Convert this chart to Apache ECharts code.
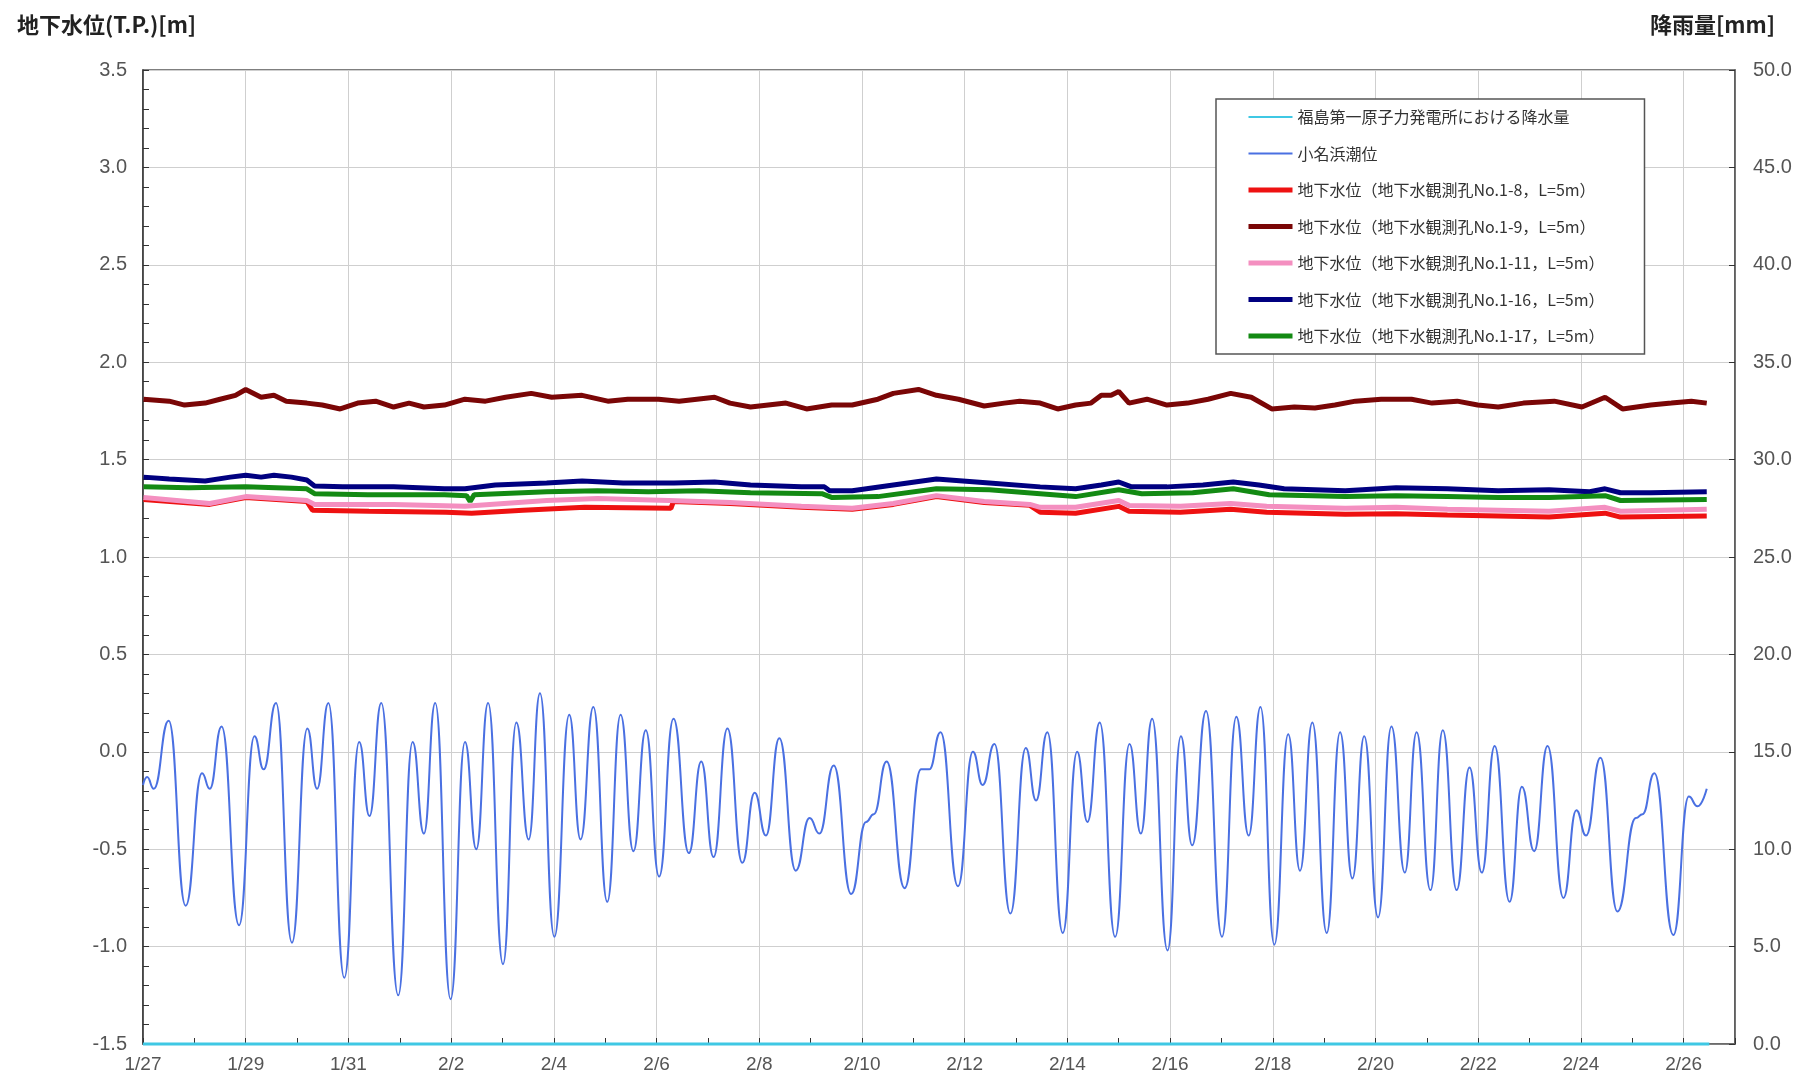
<!DOCTYPE html>
<html><head><meta charset="utf-8">
<script src="https://cdn.jsdelivr.net/npm/echarts@6/dist/echarts.min.js"></script>
<style>html,body{margin:0;padding:0;background:#fff}#c{width:1796px;height:1078px}</style>
</head><body><div id="c"></div>
<script>
// x values are days elapsed since 1/27 00:00
const xTickLabels = ['1/27','1/29','1/31','2/2','2/4','2/6','2/8','2/10','2/12','2/14','2/16','2/18','2/20','2/22','2/24','2/26'];
const legendNames = [
  '福島第一原子力発電所における降水量',
  '小名浜潮位',
  '地下水位（地下水観測孔No.1-8，L=5m）',
  '地下水位（地下水観測孔No.1-9，L=5m）',
  '地下水位（地下水観測孔No.1-11，L=5m）',
  '地下水位（地下水観測孔No.1-16，L=5m）',
  '地下水位（地下水観測孔No.1-17，L=5m）'
];
// rainfall [mm] (right axis)
const rainfall = [[0,0],[1,0],[2,0],[3,0],[4,0],[5,0],[6,0],[7,0],[8,0],[9,0],[10,0],[11,0],[12,0],[13,0],[14,0],[15,0],[16,0],[17,0],[18,0],[19,0],[20,0],[21,0],[22,0],[23,0],[24,0],[25,0],[26,0],[27,0],[28,0],[29,0],[30,0],[30.5,0]];
// Onahama tide level [m]
const tide = [[0.0,-0.17],[0.08,-0.13],[0.21,-0.19],[0.5,0.16],[0.83,-0.79],[1.15,-0.11],[1.3,-0.19],[1.53,0.13],[1.87,-0.89],[2.17,0.08],[2.35,-0.09],[2.59,0.25],[2.9,-0.98],[3.2,0.12],[3.39,-0.19],[3.61,0.25],[3.92,-1.16],[4.21,0.05],[4.41,-0.33],[4.64,0.25],[4.97,-1.25],[5.25,0.05],[5.47,-0.42],[5.69,0.25],[5.99,-1.27],[6.27,0.05],[6.49,-0.50],[6.72,0.25],[7.01,-1.09],[7.27,0.15],[7.51,-0.45],[7.73,0.30],[8.01,-0.95],[8.3,0.19],[8.52,-0.45],[8.77,0.23],[9.04,-0.77],[9.3,0.19],[9.55,-0.51],[9.79,0.11],[10.05,-0.64],[10.33,0.17],
[10.63,-0.52],[10.87,-0.05],[11.11,-0.54],[11.38,0.12],[11.67,-0.57],[11.91,-0.21],[12.13,-0.43],[12.39,0.07],[12.71,-0.61],[12.98,-0.34],[13.17,-0.42],[13.45,-0.07],[13.79,-0.73],[14.08,-0.36],[14.23,-0.32],[14.48,-0.05],[14.83,-0.70],[15.15,-0.09],[15.31,-0.09],[15.53,0.10],[15.87,-0.69],[16.16,0.0],[16.35,-0.17],[16.58,0.04],[16.89,-0.83],[17.19,0.02],[17.39,-0.25],[17.61,0.10],[17.91,-0.93],[18.19,0.0],[18.39,-0.36],[18.63,0.15],[18.93,-0.95],[19.21,0.04],[19.43,-0.42],[19.65,0.17],[19.95,-1.02],[20.21,0.08],[20.43,-0.48],[20.7,0.21],
[21.01,-0.95],[21.29,0.18],[21.53,-0.43],[21.76,0.23],[22.03,-0.99],[22.3,0.09],[22.53,-0.61],[22.77,0.15],[23.05,-0.93],[23.31,0.10],[23.55,-0.65],[23.78,0.08],[24.05,-0.85],[24.31,0.13],[24.57,-0.62],[24.8,0.10],[25.07,-0.71],[25.31,0.11],[25.58,-0.71],[25.83,-0.08],[26.07,-0.62],[26.32,0.03],[26.61,-0.77],[26.85,-0.18],[27.09,-0.51],[27.35,0.03],[27.66,-0.75],[27.91,-0.30],[28.1,-0.43],[28.38,-0.03],[28.71,-0.82],[29.07,-0.34],[29.2,-0.32],[29.43,-0.11],[29.8,-0.94],[30.1,-0.23],[30.27,-0.28],[30.45,-0.19]];
// groundwater level No.1-8 [m]
const well1_8 = [[0.01,1.295],[1.3,1.27],[2.0,1.305],[3.19,1.285],[3.3,1.24],[4.4,1.235],[5.9,1.23],[6.4,1.225],[7.4,1.24],[8.6,1.255],[10.28,1.25],[10.33,1.285],[11.43,1.275],[12.82,1.255],[13.81,1.245],[14.61,1.27],[15.45,1.31],[16.38,1.28],[17.27,1.265],[17.47,1.23],[18.16,1.225],[19.0,1.26],[19.2,1.235],[20.2,1.23],[21.18,1.245],[21.88,1.23],[23.41,1.22],[24.4,1.222],[25.4,1.215],[26.4,1.21],[27.38,1.205],[28.47,1.225],[28.77,1.205],[30.45,1.21]];
// No.1-9
const well1_9 = [[0.01,1.81],[0.51,1.80],[0.81,1.78],[1.21,1.79],[1.5,1.81],[1.8,1.83],[2.0,1.86],[2.3,1.82],[2.55,1.83],[2.79,1.80],[3.19,1.79],[3.49,1.78],[3.84,1.76],[4.18,1.79],[4.53,1.80],[4.88,1.77],[5.18,1.79],[5.47,1.77],[5.87,1.78],[6.27,1.81],[6.67,1.80],[7.06,1.82],[7.56,1.84],[7.96,1.82],[8.55,1.83],[9.05,1.80],[9.44,1.81],[10.04,1.81],[10.44,1.80],[11.13,1.82],[11.43,1.79],[11.83,1.77],[12.52,1.79],[12.92,1.76],[13.41,1.78],[13.81,1.78],[14.31,1.81],[14.61,1.84],[15.1,1.86],[15.45,1.83],[15.88,1.81],[16.38,1.775],[16.77,1.79],[17.07,1.80],[17.47,1.79],[17.81,1.76],[18.16,1.78],[18.46,1.79],[18.66,1.83],[18.85,1.83],[19.0,1.85],[19.2,1.79],[19.55,1.81],[19.94,1.78],[20.34,1.79],[20.74,1.81],[21.18,1.84],[21.58,1.82],[21.98,1.76],[22.42,1.77],[22.82,1.765],[23.21,1.78],[23.61,1.80],[24.11,1.81],[24.7,1.81],[25.1,1.79],[25.59,1.80],[25.99,1.78],[26.39,1.77],[26.88,1.79],[27.48,1.80],[28.02,1.77],[28.47,1.82],[28.81,1.76],[29.36,1.78],[29.76,1.79],[30.15,1.80],[30.45,1.79]];
// No.1-11
const well1_11 = [[0.01,1.305],[1.3,1.275],[2.0,1.31],[3.19,1.29],[3.34,1.27],[4.88,1.27],[6.27,1.26],[7.86,1.29],[8.85,1.30],[10.24,1.29],[11.43,1.28],[12.82,1.26],[13.81,1.25],[14.61,1.275],[15.45,1.315],[16.38,1.285],[17.27,1.27],[17.47,1.255],[18.16,1.255],[19.0,1.29],[19.2,1.265],[20.2,1.26],[21.18,1.275],[21.88,1.26],[23.41,1.25],[24.4,1.255],[25.4,1.245],[26.4,1.24],[27.38,1.235],[28.47,1.255],[28.77,1.235],[30.45,1.245]];
// No.1-16
const well1_16 = [[0.01,1.41],[0.51,1.40],[1.21,1.39],[1.7,1.41],[2.0,1.42],[2.3,1.41],[2.55,1.42],[2.89,1.41],[3.19,1.395],[3.34,1.365],[3.89,1.36],[4.88,1.36],[5.87,1.35],[6.27,1.35],[6.86,1.37],[7.86,1.38],[8.55,1.39],[9.35,1.38],[10.34,1.38],[11.13,1.385],[11.83,1.37],[12.82,1.36],[13.27,1.36],[13.37,1.34],[13.81,1.34],[14.61,1.37],[15.45,1.40],[16.48,1.38],[17.47,1.36],[18.16,1.35],[18.66,1.37],[19.0,1.385],[19.25,1.36],[19.94,1.36],[20.64,1.37],[21.23,1.385],[21.73,1.37],[22.22,1.35],[23.41,1.34],[24.4,1.355],[25.4,1.35],[26.39,1.34],[27.38,1.345],[28.17,1.335],[28.47,1.35],[28.77,1.33],[29.36,1.33],[30.45,1.335]];
// No.1-17
const well1_17 = [[0.01,1.36],[0.89,1.355],[2.0,1.36],[3.19,1.35],[3.34,1.325],[4.38,1.32],[5.87,1.32],[6.3,1.315],[6.37,1.285],[6.45,1.32],[7.86,1.335],[8.85,1.34],[9.84,1.335],[10.83,1.34],[11.83,1.33],[13.22,1.325],[13.42,1.305],[14.31,1.31],[15.45,1.35],[16.48,1.345],[17.47,1.325],[18.16,1.31],[19.0,1.345],[19.45,1.325],[20.44,1.33],[21.23,1.35],[21.93,1.32],[23.41,1.31],[24.4,1.315],[25.4,1.31],[26.39,1.305],[27.38,1.305],[28.47,1.315],[28.77,1.29],[30.45,1.295]];

const seriesData = [rainfall, tide, well1_8, well1_9, well1_11, well1_16, well1_17];
const seriesColors = ['#3fc8e4', '#4a70e2', '#ee1111', '#7a0606', '#f48fc0', '#000080', '#138a13'];
const seriesWidths = [3, 2, 5, 5, 5, 5, 5];
const legendWidths = [2, 2, 5, 5, 5, 5, 5];

const numFont = 'Liberation Sans';
const jpFont = 'Noto Sans CJK JP';

const chart = echarts.init(document.getElementById('c'));
chart.setOption({
  animation: false,
  backgroundColor: '#fff',
  title: [
    {text: '地下水位(T.P.)[m]', left: 12, top: 9, textStyle: {fontFamily: jpFont, fontSize: 22, fontWeight: 'bold', color: '#222'}},
    {text: '降雨量[mm]', right: 16, top: 9, textStyle: {fontFamily: jpFont, fontSize: 22, fontWeight: 'bold', color: '#222'}}
  ],
  grid: {left: 143, right: 61, top: 70, bottom: 34, show: true, borderColor: '#555', borderWidth: 1.5, backgroundColor: '#fff'},
  legend: {
    orient: 'vertical', left: 1216, top: 99,
    padding: [10, 40, 10, 30],
    itemWidth: 44, itemHeight: 14, itemGap: 20.5,
    backgroundColor: '#fff', borderColor: '#555', borderWidth: 1.5,
    selectedMode: false,
    itemStyle: {opacity: 0},
    textStyle: {fontFamily: jpFont, fontSize: 16, color: '#333'},
    data: legendNames.map((n, i) => ({name: n, lineStyle: {width: legendWidths[i], color: seriesColors[i]}}))
  },
  xAxis: {
    type: 'value', min: 0, max: 31, interval: 2,
    axisLine: {onZero: false, lineStyle: {color: '#666', width: 1.5}},
    axisTick: {inside: true, length: 6, lineStyle: {color: '#333'}},
    minorTick: {show: true, splitNumber: 2, length: 6, lineStyle: {color: '#333'}},
    splitLine: {show: true, lineStyle: {color: '#cfcfcf', width: 1}},
    axisLabel: {
      fontFamily: numFont, fontSize: 19, color: '#555', margin: 11, showMaxLabel: false,
      formatter: v => (v % 2 === 0 && xTickLabels[v / 2] !== undefined) ? xTickLabels[v / 2] : ''
    }
  },
  yAxis: [
    {
      type: 'value', min: -1.5, max: 3.5, interval: 0.5,
      axisLine: {show: true, lineStyle: {color: '#333', width: 1.5}},
      axisTick: {show: true, inside: true, length: 6, lineStyle: {color: '#333'}},
      minorTick: {show: true, splitNumber: 5, length: 6, lineStyle: {color: '#333'}},
      splitLine: {show: true, lineStyle: {color: '#cfcfcf', width: 1}},
      axisLabel: {fontFamily: numFont, fontSize: 20, color: '#555', margin: 16, formatter: v => v.toFixed(1)}
    },
    {
      type: 'value', min: 0, max: 50, interval: 5, position: 'right',
      axisLine: {show: true, lineStyle: {color: '#555', width: 1.5}},
      axisTick: {show: true, inside: true, length: 6, lineStyle: {color: '#333'}},
      splitLine: {show: false},
      axisLabel: {fontFamily: numFont, fontSize: 20, color: '#555', margin: 18, formatter: v => v.toFixed(1)}
    }
  ],
  series: legendNames.map((name, i) => ({
    name: name,
    type: 'line',
    yAxisIndex: i === 0 ? 1 : 0,
    data: seriesData[i],
    symbol: 'none',
    showSymbol: false,
    smooth: i === 1 ? 0.5 : false,
    smoothMonotone: i === 1 ? 'x' : undefined,
    clip: false,
    color: seriesColors[i],
    lineStyle: {color: seriesColors[i], width: seriesWidths[i]},
    z: 3 + i
  }))
});
</script>
</body></html>
